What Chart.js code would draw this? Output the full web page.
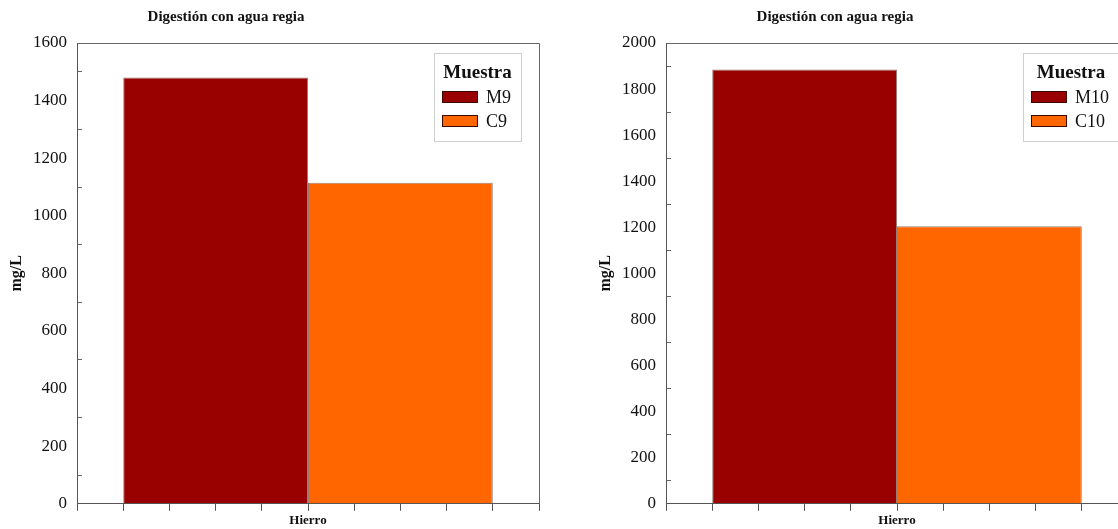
<!DOCTYPE html>
<html>
<head>
<meta charset="utf-8">
<script src="https://cdn.jsdelivr.net/npm/chart.js@4"></script>
<style>
  html, body { margin: 0; padding: 0; background: #fff; overflow: hidden; }
  #wrap { position: relative; width: 1118px; height: 529px; overflow: hidden; background: #fff; }
  canvas { position: absolute; top: 0; }
</style>
</head>
<body>
<div id="wrap">
  <canvas id="panelM9" width="560" height="529" style="left:0"></canvas>
  <canvas id="panelM10" width="560" height="529" style="left:589px"></canvas>
</div>
<script>
// Iron content after aqua regia digestion, mg/L
const categories = ['Hierro'];
const leftSeries = ['M9', 'C9'];
const leftValues = [1480, 1115];
const rightSeries = ['M10', 'C10'];
const rightValues = [1885, 1205];
const seriesColors = ['#990000', '#ff6600'];
const leftYMax = 1600;
const rightYMax = 2000;
const chartTitle = 'Digestión con agua regia';
const yTitle = 'mg/L';
const legendTitle = 'Muestra';

const SERIF = '"Liberation Serif", "DejaVu Serif", serif';

// panel heading, placed relative to the plot area
const panelTitle = {
  id: 'panelTitle',
  afterDraw(chart, args, opts) {
    const { ctx, chartArea: a } = chart;
    ctx.save();
    ctx.fillStyle = '#111';
    ctx.font = 'bold 15px ' + SERIF;
    ctx.textAlign = 'center';
    ctx.textBaseline = 'middle';
    ctx.fillText(opts.text, a.left + opts.centerX, 17);
    ctx.restore();
  }
};

// top and right edges of the plot frame
const frame = {
  id: 'frame',
  afterDraw(chart) {
    const { ctx, chartArea: a } = chart;
    const l = Math.round(a.left) + 0.5, t = Math.round(a.top) + 0.5;
    const r = Math.round(a.right) + 0.5, b = Math.round(a.bottom) + 0.5;
    ctx.save();
    ctx.strokeStyle = '#666';
    ctx.lineWidth = 1;
    ctx.beginPath();
    ctx.moveTo(l, t); ctx.lineTo(r, t); ctx.lineTo(r, b);
    ctx.stroke();
    ctx.restore();
  }
};

// boxed legend inside the plot area
const boxLegend = {
  id: 'boxLegend',
  afterDraw(chart, args, opts) {
    const { ctx, chartArea: a } = chart;
    const ds = chart.data.datasets;
    ctx.save();
    ctx.font = '18px ' + SERIF;
    const textW = Math.max(...ds.map(d => ctx.measureText(d.label).width));
    const padL = 8, sw = 36, sh = 12, gap = 8, padR = 10;
    const w = Math.round(padL + sw + gap + textW + padR);
    const h = 88;
    const x = Math.round(a.left + opts.offsetX), y = Math.round(a.top + 10);
    ctx.fillStyle = '#fff';
    ctx.fillRect(x, y, w, h);
    ctx.strokeStyle = '#cfcfcf';
    ctx.lineWidth = 1;
    ctx.strokeRect(x + 0.5, y + 0.5, w, h);
    ctx.fillStyle = '#111';
    ctx.font = 'bold 19px ' + SERIF;
    ctx.textAlign = 'center';
    ctx.textBaseline = 'middle';
    ctx.fillText(opts.title, x + w / 2, y + 20);
    ds.forEach((d, i) => {
      const cy = y + 44 + 24 * i;
      ctx.fillStyle = d.backgroundColor;
      ctx.fillRect(x + padL, cy - 6, sw, sh);
      ctx.strokeStyle = '#3a0a00';
      ctx.strokeRect(x + padL + 0.5, cy - 5.5, sw - 1, sh - 1);
      ctx.fillStyle = '#111';
      ctx.font = '18px ' + SERIF;
      ctx.textAlign = 'left';
      ctx.fillText(d.label, x + padL + sw + gap, cy + 1);
    });
    ctx.restore();
  }
};

function buildPanel(id, series, values, yMax, titleX) {
  return new Chart(document.getElementById(id), {
    type: 'bar',
    data: {
      labels: categories,
      datasets: series.map((s, i) => ({
        label: s,
        data: [values[i]],
        backgroundColor: seriesColors[i],
        borderColor: 'rgba(70,20,0,0.55)',
        borderWidth: 1,
        categoryPercentage: 0.8,
        barPercentage: 1.0
      }))
    },
    options: {
      responsive: false,
      animation: false,
      devicePixelRatio: 1,
      layout: { padding: { left: 0, right: 21, top: 43, bottom: 0 } },
      plugins: {
        legend: { display: false },
        tooltip: { enabled: false },
        title: { display: false },
        panelTitle: { text: chartTitle, centerX: titleX },
        boxLegend: { title: legendTitle, offsetX: 357 }
      },
      scales: {
        x: {
          type: 'category',
          position: 'bottom',
          weight: 1,
          grid: { display: false, drawTicks: false },
          border: { display: false },
          ticks: { color: '#111', font: { family: SERIF, size: 13, weight: 'bold' }, padding: 2 },
          afterFit(s) { s.height = 17; }
        },
        xt: {
          type: 'linear',
          position: 'bottom',
          weight: 0,
          min: 0,
          max: 10,
          offset: false,
          ticks: { display: false, stepSize: 1 },
          grid: { offset: false, drawOnChartArea: false, tickLength: 7, tickColor: '#555' },
          border: { color: '#555' },
          afterFit(s) { s.height = 7; }
        },
        y: {
          min: 0,
          max: yMax,
          ticks: {
            stepSize: 100,
            autoSkip: false,
            color: '#111',
            font: { family: SERIF, size: 17 },
            padding: 15,
            callback: v => (v % 200 === 0 ? v : '')
          },
          grid: {
            drawOnChartArea: false,
            tickLength: -5,
            tickColor: c => (c.tick && c.tick.value % 200 === 0 ? 'rgba(0,0,0,0)' : '#666')
          },
          border: { color: '#555' },
          title: {
            display: true,
            text: yTitle,
            color: '#111',
            font: { family: SERIF, size: 16, weight: 'bold' },
            padding: { top: 7, bottom: 0 }
          },
          afterFit(s) { s.width = 77; }
        }
      }
    },
    plugins: [frame, boxLegend, panelTitle]
  });
}

buildPanel('panelM9', leftSeries, leftValues, leftYMax, 149);
buildPanel('panelM10', rightSeries, rightValues, rightYMax, 169);
</script>
</body>
</html>
